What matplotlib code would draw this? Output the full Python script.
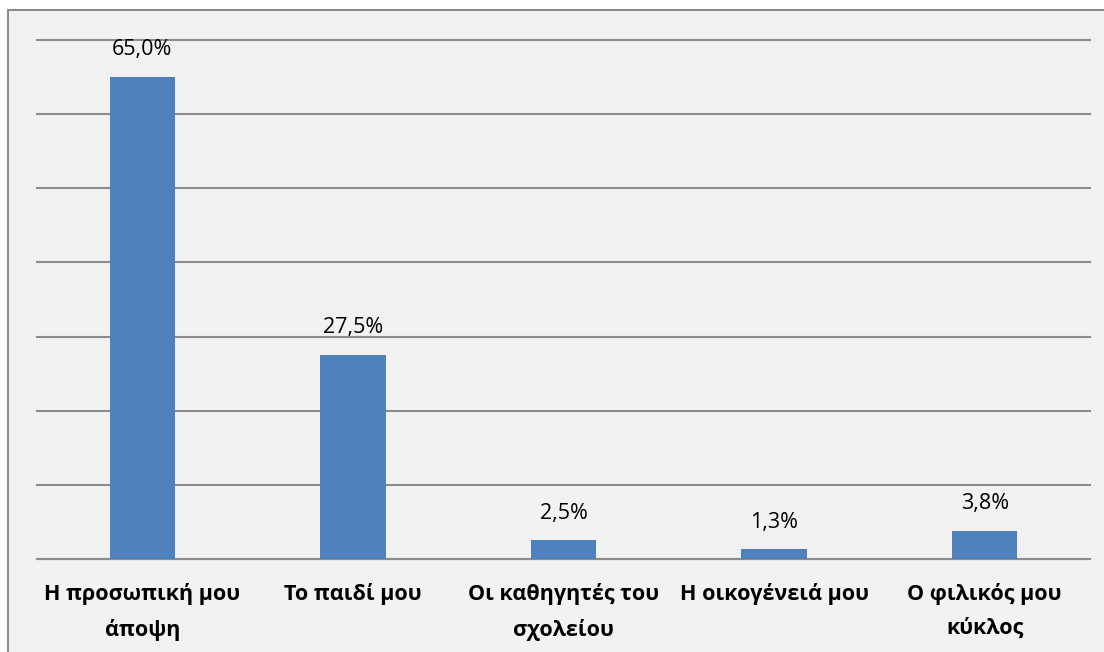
import matplotlib
matplotlib.use('Agg')
import matplotlib.pyplot as plt
from matplotlib.patches import Rectangle
import numpy as np

plt.rcParams['font.family'] = ['Open Sans', 'DejaVu Sans']

categories = ['Η προσωπική μου\nάποψη', 'Το παιδί μου', 'Οι καθηγητές του\nσχολείου',
              'Η οικογένειά μου', 'Ο φιλικός μου\nκύκλος']
values = [65.0, 27.5, 2.5, 1.3, 3.8]

fig = plt.figure(figsize=(11.04, 6.52), dpi=100)
fig.patch.set_facecolor('white')
# chart area frame, drawn behind the axes
fig.patches.append(Rectangle((8 / 1104, -0.01), 1.0, 1 - 10 / 652 + 0.01,
                             transform=fig.transFigure, facecolor='#f2f2f2',
                             edgecolor='#8c8c8c', linewidth=1.5, zorder=-10))

ax = fig.add_axes([37 / 1104, 1 - 559 / 652, (1090 - 37) / 1104, (559 - 40) / 652])
ax.set_facecolor('none')

x = np.arange(len(categories))
bars = ax.bar(x, values, width=0.31, color='#4f81bd', zorder=3)

ax.set_xlim(-0.5, len(categories) - 0.5)
ax.set_ylim(0, 70)
ax.set_yticks(np.arange(0, 71, 10))
ax.yaxis.grid(True, color='#8c8c8c', linewidth=1.5, zorder=1)
for gl in ax.yaxis.get_gridlines():
    gl.set_clip_on(False)
ax.set_axisbelow(True)
ax.tick_params(axis='y', left=False, labelleft=False)
ax.tick_params(axis='x', bottom=False, pad=14)
ax.set_xticks(x)
ax.set_xticklabels(categories, fontsize=15.5, fontweight='bold', linespacing=1.8)

for s in ['top', 'right', 'left']:
    ax.spines[s].set_visible(False)
ax.spines['bottom'].set_color('#8c8c8c')
ax.spines['bottom'].set_linewidth(1.5)

for b, v in zip(bars, values):
    ax.annotate(f'{v:.1f}%'.replace('.', ','), (b.get_x() + b.get_width() / 2, v),
                xytext=(0, 12), textcoords='offset points', ha='center', va='bottom',
                fontsize=15.5)

fig.savefig('out.png', dpi=100)
